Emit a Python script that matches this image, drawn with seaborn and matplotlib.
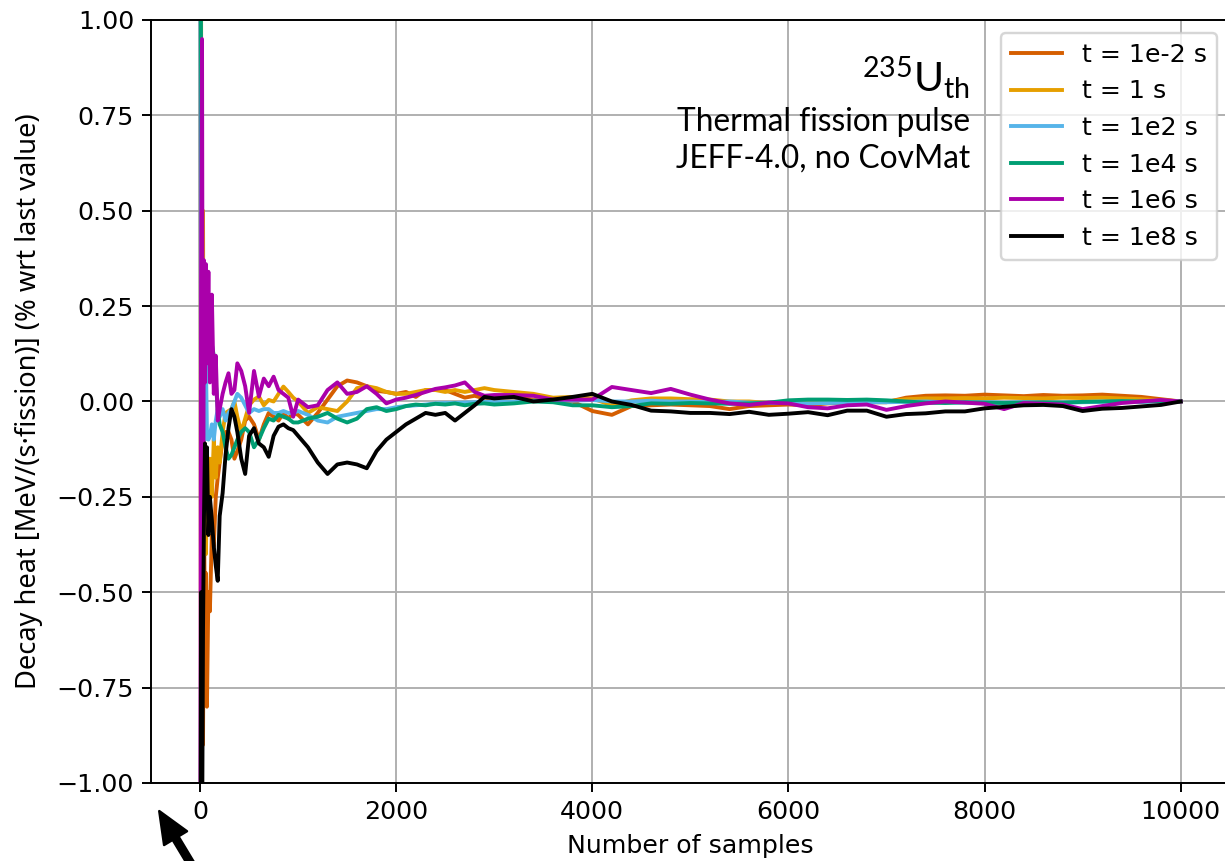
import matplotlib
matplotlib.use("Agg")
import matplotlib.pyplot as plt
import seaborn as sns

# sample counts (shared x axis for every series)
samples = [1, 10, 20, 30, 40, 50, 60, 70, 85, 100, 120, 140, 160, 180, 200, 230, 260, 290, 320, 350,
           380, 420, 460, 500, 550, 600, 650, 700, 750, 800, 850, 900, 950, 1000,
           1100, 1200, 1300, 1400, 1500, 1600, 1700, 1800, 1900, 2000,
           2100, 2200, 2300, 2400, 2500, 2600, 2700, 2800, 2900, 3000,
           3200, 3400, 3600, 3800, 4000, 4200, 4400, 4600, 4800, 5000,
           5200, 5400, 5600, 5800, 6000, 6200, 6400, 6600, 6800, 7000,
           7200, 7400, 7600, 7800, 8000, 8200, 8400, 8600, 8800, 9000,
           9200, 9400, 9600, 9800, 10000]

t_1e_2 = [1.5, -1.5, 0.4, -0.9, -0.3, -0.6, -0.45, -0.8, -0.5, -0.55, -0.35, -0.38, -0.25, -0.2, -0.16, -0.1, -0.08,
          -0.08, -0.1, -0.15, -0.13, -0.1, -0.05, -0.04, -0.06, -0.1, -0.06, -0.03, -0.04, -0.05, -0.03, -0.045,
          -0.03, -0.035,
          -0.06, -0.03, 0.005, 0.04, 0.055, 0.05, 0.04, 0.028, 0.025, 0.02,
          0.025, 0.012, 0.03, 0.03, 0.03, 0.02, 0.01, 0.015, 0.008, 0.012,
          0.01, 0.005, 0.0, 0.0, -0.025, -0.035, -0.012, -0.01, -0.008, -0.01,
          -0.012, -0.02, -0.012, -0.01, -0.008, -0.01, -0.005, -0.003, -0.002, -0.002,
          0.01, 0.015, 0.016, 0.015, 0.018, 0.016, 0.014, 0.017, 0.015, 0.016,
          0.018, 0.015, 0.012, 0.006, 0.0]

t_1 = [1.6, 1.1, -0.6, 0.5, -0.3, -0.15, -0.4, -0.2, -0.3, -0.15, -0.25, -0.1, -0.2, -0.12, -0.16, -0.08, -0.03,
       -0.025, -0.02, 0.0, -0.04, -0.08, -0.045, -0.01, 0.005, 0.013, -0.01, 0.004, 0.0, 0.02, 0.039, 0.025,
       0.01, 0.0,
       -0.03, -0.015, -0.02, -0.025, 0.0, 0.035, 0.04, 0.035, 0.025, 0.02,
       0.02, 0.025, 0.03, 0.03, 0.025, 0.03, 0.025, 0.03, 0.035, 0.03,
       0.025, 0.02, 0.01, 0.012, 0.008, -0.01, 0.003, 0.008, 0.008, 0.006,
       0.005, 0.0, 0.0, -0.004, -0.002, -0.003, -0.002, 0.0, 0.0, 0.0,
       0.006, 0.008, 0.008, 0.009, 0.008, 0.01, 0.009, 0.008, 0.01, 0.009,
       0.01, 0.008, 0.006, 0.003, 0.0]

t_1e2 = [1.3, -0.6, 0.3, -0.2, 0.2, -0.1, 0.1, -0.08, -0.1, -0.09, -0.06, -0.1, -0.05, -0.02, -0.04, -0.02, -0.05,
         -0.03, -0.02, 0.0, 0.02, 0.01, -0.01, -0.03, -0.02, -0.025, -0.02, -0.02, -0.03, -0.03, -0.025, -0.03,
         -0.03, -0.025,
         -0.035, -0.05, -0.055, -0.04, -0.035, -0.03, -0.025, -0.02, -0.02, -0.015,
         -0.012, -0.01, -0.008, -0.005, -0.004, -0.004, -0.003, -0.002, 0.0, -0.002,
         0.0, 0.002, 0.004, 0.002, 0.004, 0.0, 0.0, 0.002, 0.0, 0.0,
         -0.002, 0.0, -0.003, -0.004, -0.004, -0.005, -0.004, -0.003, -0.002, -0.002,
         -0.001, 0.0, -0.002, -0.003, -0.002, -0.003, -0.002, -0.004, -0.003, -0.002,
         -0.001, 0.0, -0.001, 0.001, 0.0]

t_1e4 = [1.6, 0.9, 0.37, 0.3, 0.36, 0.2, 0.33, 0.25, 0.28, 0.2, 0.15, 0.12, 0.05, -0.02, -0.06, -0.08, -0.12,
         -0.15, -0.14, -0.12, -0.1, -0.08, -0.07, -0.08, -0.12, -0.1, -0.07, -0.045, -0.05, -0.035, -0.04, -0.045,
         -0.055, -0.055,
         -0.045, -0.04, -0.03, -0.045, -0.055, -0.045, -0.02, -0.015, -0.025, -0.02,
         -0.012, -0.008, -0.01, -0.006, -0.008, -0.005, -0.01, -0.006, -0.005, -0.008,
         -0.005, 0.0, -0.002, -0.01, -0.01, -0.015, -0.012, -0.005, -0.006, -0.004,
         -0.005, -0.006, -0.005, -0.003, 0.003, 0.005, 0.005, 0.004, 0.005, 0.003,
         0.0, -0.003, -0.004, -0.002, -0.003, -0.004, -0.003, -0.002, -0.003, -0.001,
         0.0, 0.001, 0.0, 0.001, 0.0]

t_1e6 = [-1.5, 0.3, 0.95, -0.5, 0.37, 0.05, 0.36, 0.1, 0.34, 0.05, 0.28, 0.02, 0.12, -0.05, -0.02, 0.02, 0.05,
         0.074, 0.02, 0.03, 0.1, 0.08, 0.04, -0.03, 0.08, 0.013, 0.06, 0.04, 0.065, 0.03, 0.02, 0.01,
         -0.04, 0.005,
         -0.015, -0.01, 0.03, 0.05, 0.02, 0.025, 0.04, 0.02, -0.005, 0.005,
         0.01, 0.017, 0.025, 0.033, 0.037, 0.042, 0.05, 0.025, 0.015, 0.017,
         0.017, 0.015, 0.005, 0.005, 0.005, 0.038, 0.03, 0.022, 0.033, 0.018,
         0.005, -0.005, -0.009, -0.003, -0.005, -0.015, -0.018, -0.01, -0.008, -0.022,
         -0.012, -0.005, 0.0, -0.003, -0.006, -0.02, -0.004, -0.006, -0.008, -0.02,
         -0.012, -0.004, 0.0, 0.004, 0.0]

t_1e8 = [-1.8, -0.5, -1.2, -0.6, -0.3, -0.11, -0.2, -0.12, -0.35, -0.25, -0.31, -0.38, -0.43, -0.47, -0.3, -0.24,
         -0.14, -0.07, -0.02, -0.04, -0.08, -0.15, -0.19, -0.09, -0.07, -0.11, -0.12, -0.145, -0.09, -0.066, -0.06,
         -0.07, -0.075, -0.09,
         -0.12, -0.16, -0.19, -0.165, -0.16, -0.165, -0.175, -0.13, -0.1, -0.08,
         -0.06, -0.045, -0.03, -0.035, -0.03, -0.05, -0.03, -0.01, 0.012, 0.008,
         0.012, 0.0, 0.005, 0.012, 0.02, 0.0, -0.009, -0.024, -0.026, -0.03,
         -0.03, -0.033, -0.027, -0.035, -0.032, -0.028, -0.036, -0.024, -0.024, -0.04,
         -0.033, -0.031, -0.026, -0.026, -0.018, -0.014, -0.01, -0.009, -0.012, -0.025,
         -0.019, -0.017, -0.013, -0.009, 0.0]

series = [t_1e_2, t_1, t_1e2, t_1e4, t_1e6, t_1e8]
labels = ["t = 1e-2 s", "t = 1 s", "t = 1e2 s", "t = 1e4 s", "t = 1e6 s", "t = 1e8 s"]
colors = ["#D55E00", "#E69F00", "#56B4E9", "#009E73", "#AA00AA", "black"]

plt.rcParams["font.size"] = 10.4
plt.rcParams["mathtext.fontset"] = "custom"
plt.rcParams["mathtext.rm"] = "Lato"
plt.rcParams["mathtext.it"] = "Lato:italic"
plt.rcParams["mathtext.bf"] = "Lato:bold"

fig = plt.figure(figsize=(7.0, 4.92), dpi=175)
ax = fig.add_axes([0.1233, 0.0906, 0.8805, 0.8862])

for vals, col, lab in zip(series, colors, labels):
    sns.lineplot(x=samples, y=vals, color=col, label=lab, ax=ax, linewidth=1.6, estimator=None)

ax.set_xlim(-500, 10500)
ax.set_ylim(-1, 1)
ax.set_yticks([-1, -0.75, -0.5, -0.25, 0, 0.25, 0.5, 0.75, 1])
ax.grid(True)
ax.set_xlabel("Number of samples")
ax.set_ylabel("Decay heat [MeV/(s·fission)] (% wrt last value)", family="Noto Sans", fontsize=11.2)
ax.yaxis.set_label_coords(-0.100, 0.5)
ax.legend(loc="upper right")

# annotation block, right aligned, one text per line
ax.text(0.7593, 0.9056, "$^{235}$U$_{\\rm th}$", transform=ax.transAxes,
        ha="right", va="baseline", family="Lato", fontsize=16.8)
ax.text(0.7593, 0.8545, "Thermal fission pulse", transform=ax.transAxes,
        ha="right", va="baseline", family="Lato", fontsize=13)
ax.text(0.7593, 0.806, "JEFF-4.0, no CovMat", transform=ax.transAxes,
        ha="right", va="baseline", family="Lato", fontsize=13)

# pointer arrow below the axis
ax.annotate("", xy=(0.13, 0.058), xycoords="figure fraction",
            xytext=(0.163, -0.02), textcoords="figure fraction",
            arrowprops=dict(facecolor="black", edgecolor="black", width=2.8,
                            headwidth=11, headlength=13, shrink=0),
            annotation_clip=False)

fig.savefig("out.png", dpi=175)
